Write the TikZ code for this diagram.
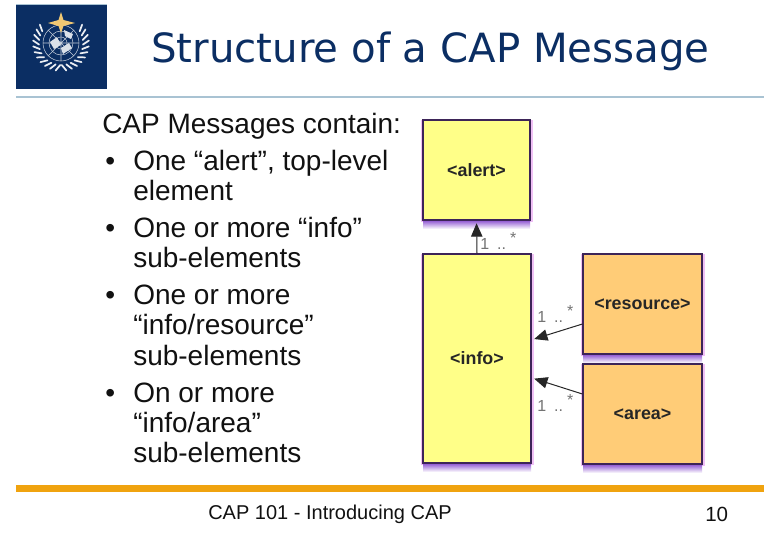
\documentclass[tikz,border=0pt]{standalone}
\usepackage{fontspec}
\setmainfont{Liberation Sans}
\newfontfamily\titlefont{DejaVu Sans}
\usetikzlibrary{arrows.meta}
\definecolor{navy}{HTML}{0B2E63}
\definecolor{rulebl}{HTML}{A9C3D3}
\definecolor{rulegold}{HTML}{F0A30F}
\definecolor{boxyel}{HTML}{FFFF88}
\definecolor{boxorg}{HTML}{FFCC77}
\definecolor{edge}{HTML}{3D2458}
\definecolor{shade}{HTML}{8A4FD0}
\definecolor{rim}{HTML}{F0C0F5}
\definecolor{star}{HTML}{F1C873}
\definecolor{bodytxt}{HTML}{111111}
\tikzset{
  x=.75pt,y=-.75pt,
  line/.style={anchor=base west,font=\fontsize{21}{21}\selectfont,text=bodytxt,inner sep=0pt},
  sbox/.style={draw=edge,line width=.9pt,inner sep=0pt,font=\fontsize{13.4}{14}\selectfont\bfseries,text=black!85},
  mult/.style={anchor=base west,font=\fontsize{12}{12}\selectfont,text=black!55,inner sep=0pt},
  link/.style={draw=black!85,line width=.75pt,-{Triangle[length=10pt,width=8.5pt]},shorten >=2pt},
  leaf/.style={draw=white!92!navy,line width=1.3pt,line cap=round},
  glob/.style={draw=white!75!navy,line width=.4pt}
}
\newcommand{\boxshadow}[4]{%
  \fill[rim] (#1-2,#2) rectangle (#3+3,#4+2);
  \shade[top color=shade,bottom color=white] (#1,#4) rectangle (#3,#4+9);
}
\begin{document}
\begin{tikzpicture}
\useasboundingbox (0,0) rectangle (780,540);
\fill[white] (0,0) rectangle (780,540);
% logo
\fill[navy] (16,4) rectangle (107,89);
\draw[rulebl,line width=.6pt] (16,4) -- (107,4);
\draw[glob] (61,43) circle (18);
\draw[glob] (61,43) circle (12);
\draw[glob] (61,43) circle (6);
\draw[glob] (43,43) -- (79,43) (61,25) -- (61,61) (48,30) -- (74,56) (48,56) -- (74,30);
\fill[white!85!navy] (50,42) -- (57,37) -- (61,45) -- (54,49) -- cycle;
\fill[white!85!navy] (61,48) -- (69,43) -- (72,48) -- (63,54) -- cycle;
\fill[white!85!navy] (64,30) -- (73,34) -- (71,39) -- (65,36) -- cycle;
\foreach \a in {92,104,...,212}{
  \draw[leaf] ({61+22*cos(\a)},{43+22*sin(\a)}) -- ({61+28*cos(\a+9)},{43+28*sin(\a+9)});
  \draw[leaf] ({61-22*cos(\a)},{43+22*sin(\a)}) -- ({61-28*cos(\a+9)},{43+28*sin(\a+9)});
}
\fill[star] (61,12) -- (63.5,20) -- (75,23) -- (63.5,26) -- (61,33) -- (58.5,26) -- (48,23) -- (58.5,20) -- cycle;
% rules
\draw[rulebl,line width=1pt] (16,97) -- (764,97);
\fill[rulegold] (16,485) rectangle (764,491.5);
% title
\node[anchor=base west,inner sep=0pt,font=\titlefont\fontsize{30.2}{31}\selectfont,text=navy] (title) at (151,62) {Structure of a CAP Message};
% text
\node[line] (t1) at (102,133) {CAP Messages contain:};
\node[line] (b1) at (105,170) {•};
\node[line] (t2) at (133,170) {One “alert”, top-level};
\node[line] (t3) at (133,200) {element};
\node[line] (b2) at (105,237) {•};
\node[line] (t4) at (133,237) {One or more “info”};
\node[line] (t5) at (133,267) {sub-elements};
\node[line] (b3) at (105,304) {•};
\node[line] (t6) at (133,304) {One or more};
\node[line] (t7) at (133,334) {“info/resource”};
\node[line] (t8) at (133,365) {sub-elements};
\node[line] (b4) at (105,402) {•};
\node[line] (t9) at (133,402) {On or more};
\node[line] (t10) at (133,432) {“info/area”};
\node[line] (t11) at (133,462) {sub-elements};
% shadows
\boxshadow{423}{120}{530}{220}
\boxshadow{423}{254}{531}{463}
\boxshadow{583}{254}{702}{354}
\boxshadow{583}{364}{702}{464}
\draw[draw=white!45!edge,line width=1.6pt] (423,254) -- (423,463) (531,254) -- (531,463);
% boxes
\node[sbox,fill=boxyel,minimum width=107*.75pt,minimum height=100*.75pt] (alert) at (476.5,170) {<alert>};
\node[sbox,fill=boxyel,minimum width=108*.75pt,minimum height=209*.75pt] (info) at (477,358.5) {<info>};
\node[sbox,fill=boxorg,minimum width=119*.75pt,minimum height=100*.75pt] (resource) at (642.5,304) {<resource>};
\node[sbox,fill=boxorg,minimum width=119*.75pt,minimum height=100*.75pt] (area) at (642.5,414) {<area>};
% connectors
\draw[link] (info.north) -- (alert.south);
\draw[link] ([yshift=-15pt]resource.west) -- ([yshift=14pt]info.east);
\draw[link] ([yshift=15pt]area.west) -- ([yshift=-14.5pt]info.east);
% multiplicities
\node[mult] (m1) at (480,249) {1\hspace{6pt}..\hspace{3pt}\raisebox{4pt}{*}};
\node[mult] (m2) at (537,322) {1\hspace{6pt}..\hspace{3pt}\raisebox{4pt}{*}};
\node[mult] (m3) at (537,411) {1\hspace{6pt}..\hspace{3pt}\raisebox{4pt}{*}};
% footer
\node[anchor=base west,inner sep=0pt,font=\fontsize{15}{15}\selectfont,text=bodytxt] (foot) at (208,519) {CAP 101 - Introducing CAP};
\node[anchor=base west,inner sep=0pt,font=\fontsize{15.4}{15}\selectfont,text=bodytxt] (page) at (705,521) {10};
\end{tikzpicture}
\end{document}
